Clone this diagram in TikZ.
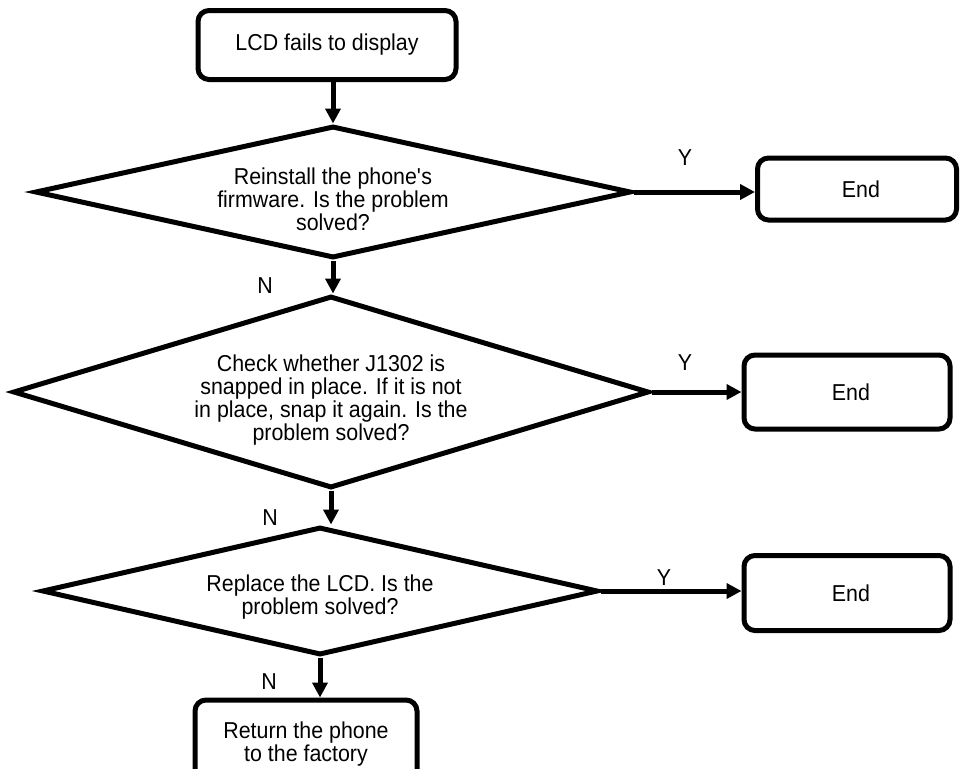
\documentclass[tikz,border=0pt]{standalone}
\usepackage{fontspec}
\setmainfont[FakeStretch=0.93]{Liberation Sans}
\usetikzlibrary{shapes.geometric,arrows.meta}

\tikzset{
  every node/.style={font=\fontsize{23}{23}\selectfont},
  thick line/.style={line width=5pt},
  termbox/.style={draw, thick line, rounded corners=11pt, inner sep=0pt, align=center},
  decision/.style={draw, thick line, diamond, inner sep=0pt, aspect=1},
  dtext/.style={align=center, inner sep=0pt},
  flow/.style={thick line, -{Triangle[length=15pt,width=15pt]}},
  lbl/.style={inner sep=0pt}
}

\begin{document}
\begin{tikzpicture}[x=1pt,y=-1pt]
  \useasboundingbox (0,0) rectangle (962,769);

  % start box
  \node[termbox, minimum width=258pt, minimum height=69pt] (start) at (327,45) {LCD fails to display};

  % decision 1
  \node[decision, minimum width=596pt, minimum height=132pt] (d1) at (333,192) {};
  \node[dtext] (t1) at (333,199) {Reinstall the phone\textquotesingle s\\firmware. Is the problem\\solved?};
  \node[termbox, minimum width=199pt, minimum height=62pt] (e1) at (857,189) {\hspace*{8pt}End};

  % decision 2
  \node[decision, minimum width=636pt, minimum height=192pt] (d2) at (331,392) {};
  \node[dtext] (t2) at (331,400) {Check whether J1302 is\\snapped in place. If it is not\\in place, snap it again. Is the\\problem solved?};
  \node[termbox, minimum width=206pt, minimum height=74pt] (e2) at (847,392) {\hspace*{8pt}End};

  % decision 3
  \node[decision, minimum width=556pt, minimum height=128pt] (d3) at (320,591) {};
  \node[dtext] (t3) at (320,597) {Replace the LCD. Is the\\problem solved?};
  \node[termbox, minimum width=206pt, minimum height=75pt] (e3) at (847,593) {\hspace*{8pt}End};

  % final box, cut by the lower page edge
  \node[termbox, minimum width=222pt, minimum height=88pt] (ret) at (306,744) {Return the phone\\to the factory};

  % connectors
  \draw[flow] (start.south -| d1.north) -- (d1.north);
  \draw[flow] (d1.east) -- (d1.east -| e1.west);
  \draw[flow] (d1.south) -- (d1.south |- d2.north);
  \draw[flow] (d2.east) -- (d2.east -| e2.west);
  \draw[flow] (d2.south) -- (d2.south |- d3.north);
  \draw[flow] (d3.east) -- (d3.east -| e3.west);
  \draw[flow] (d3.south) -- (d3.south |- ret.north);

  % branch labels
  \node[lbl] (y1) at (685,158) {Y};
  \node[lbl] (n1) at (265,286) {N};
  \node[lbl] (y2) at (685,363) {Y};
  \node[lbl] (n2) at (270,518) {N};
  \node[lbl] (y3) at (664,578) {Y};
  \node[lbl] (n3) at (269,682) {N};
\end{tikzpicture}
\end{document}
